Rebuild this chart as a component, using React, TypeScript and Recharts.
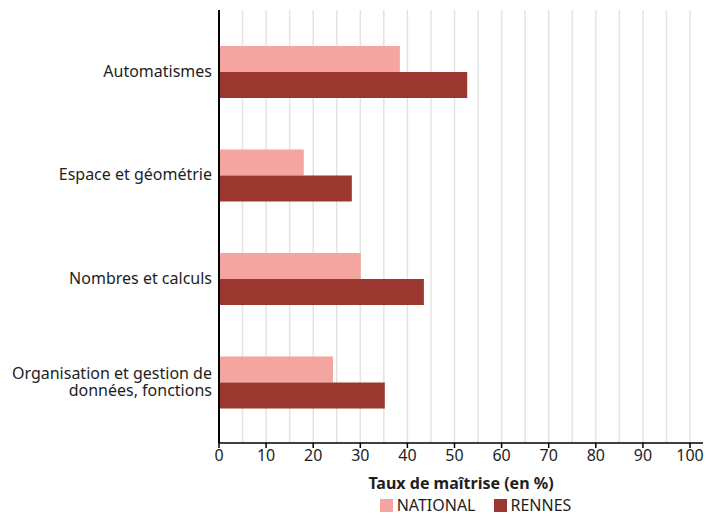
import React from 'react';
import { BarChart, Bar, XAxis, YAxis, CartesianGrid, Legend } from 'recharts';

const domaines = [
  'Automatismes',
  'Espace et géométrie',
  'Nombres et calculs',
  'Organisation et gestion de données, fonctions',
];
const national = [38.4, 18.0, 30.1, 24.2];
const rennes = [52.7, 28.2, 43.5, 35.2];
const xTicks = [0, 10, 20, 30, 40, 50, 60, 70, 80, 90, 100];
const gridTicks = [5, 10, 15, 20, 25, 30, 35, 40, 45, 50, 55, 60, 65, 70, 75, 80, 85, 90, 95, 100];

const data = domaines.map((d, i) => ({ domaine: d, NATIONAL: national[i], RENNES: rennes[i] }));

const FONT = "'Noto Sans', sans-serif";
const TEXT = '#1e1e1e';
const PINK = '#f4a59f';
const RED = '#9a372e';

// crude word wrap for long category names
const wrap = (s: string, max = 28) => {
  const lines: string[] = [];
  let cur = '';
  s.split(' ').forEach(w => {
    if (cur && (cur + ' ' + w).length > max) {
      lines.push(cur);
      cur = w;
    } else {
      cur = cur ? cur + ' ' + w : w;
    }
  });
  if (cur) lines.push(cur);
  return lines;
};

const CategoryTick = (props: any) => {
  const { x, y, payload } = props;
  const lines = wrap(payload.value);
  const lh = 17;
  const start = -((lines.length - 1) * lh) / 2;
  return (
    <text x={x + 1} y={y} textAnchor="end" fill={TEXT} fontSize={16} fontFamily={FONT}>
      {lines.map((l, i) => (
        <tspan key={i} x={x + 1} dy={i === 0 ? start + 5 : lh}>
          {l}
        </tspan>
      ))}
    </text>
  );
};

const renderLegend = () => (
  <div style={{ display: 'flex', justifyContent: 'center', paddingLeft: 29, fontFamily: FONT, fontSize: 16, color: TEXT }}>
    {[
      { name: 'NATIONAL', color: PINK },
      { name: 'RENNES', color: RED },
    ].map(item => (
      <div key={item.name} style={{ display: 'flex', alignItems: 'center', margin: '0 9px' }}>
        <span style={{ width: 13, height: 13, background: item.color, display: 'inline-block', marginRight: 4 }} />
        <span>{item.name}</span>
      </div>
    ))}
  </div>
);

// vertical grid every 5 points, positioned by the x axis scale
const gridX = ({ xAxis, offset }: any) => {
  if (xAxis && typeof xAxis.scale === 'function') {
    return gridTicks.map(t => xAxis.scale(t));
  }
  return gridTicks.map(t => offset.left + (t / 100) * (offset.width - 13));
};

export default function App() {
  return (
    <div style={{ position: 'absolute', left: 0, top: 0, background: '#fff' }}>
      <BarChart
        width={707}
        height={518}
        data={data}
        layout="vertical"
        margin={{ top: 10, right: 4, left: 0, bottom: 0 }}
        barGap={0}
      >
        <CartesianGrid horizontal={false} stroke="#e3e3e3" strokeWidth={1.5} verticalCoordinatesGenerator={gridX} />
        <XAxis
          type="number"
          domain={[0, 100]}
          ticks={xTicks}
          padding={{ right: 13 }}
          height={51}
          stroke="#000"
          strokeWidth={1.5}
          tickSize={5}
          tick={{ fill: TEXT, fontSize: 16, fontFamily: FONT }}
          label={{
            value: 'Taux de maîtrise (en %)',
            position: 'insideBottom',
            offset: 5,
            fill: TEXT,
            fontSize: 16,
            fontWeight: 700,
            fontFamily: FONT,
          }}
        />
        <YAxis
          type="category"
          dataKey="domaine"
          width={219}
          padding={{ top: 10, bottom: 9 }}
          stroke="#000"
          strokeWidth={2}
          tickLine={false}
          tick={<CategoryTick />}
          interval={0}
        />
        <Legend verticalAlign="bottom" height={24} content={renderLegend} wrapperStyle={{ left: 219, width: 484 }} />
        <Bar dataKey="NATIONAL" fill={PINK} barSize={26} isAnimationActive={false} />
        <Bar dataKey="RENNES" fill={RED} barSize={26} isAnimationActive={false} />
      </BarChart>
    </div>
  );
}
